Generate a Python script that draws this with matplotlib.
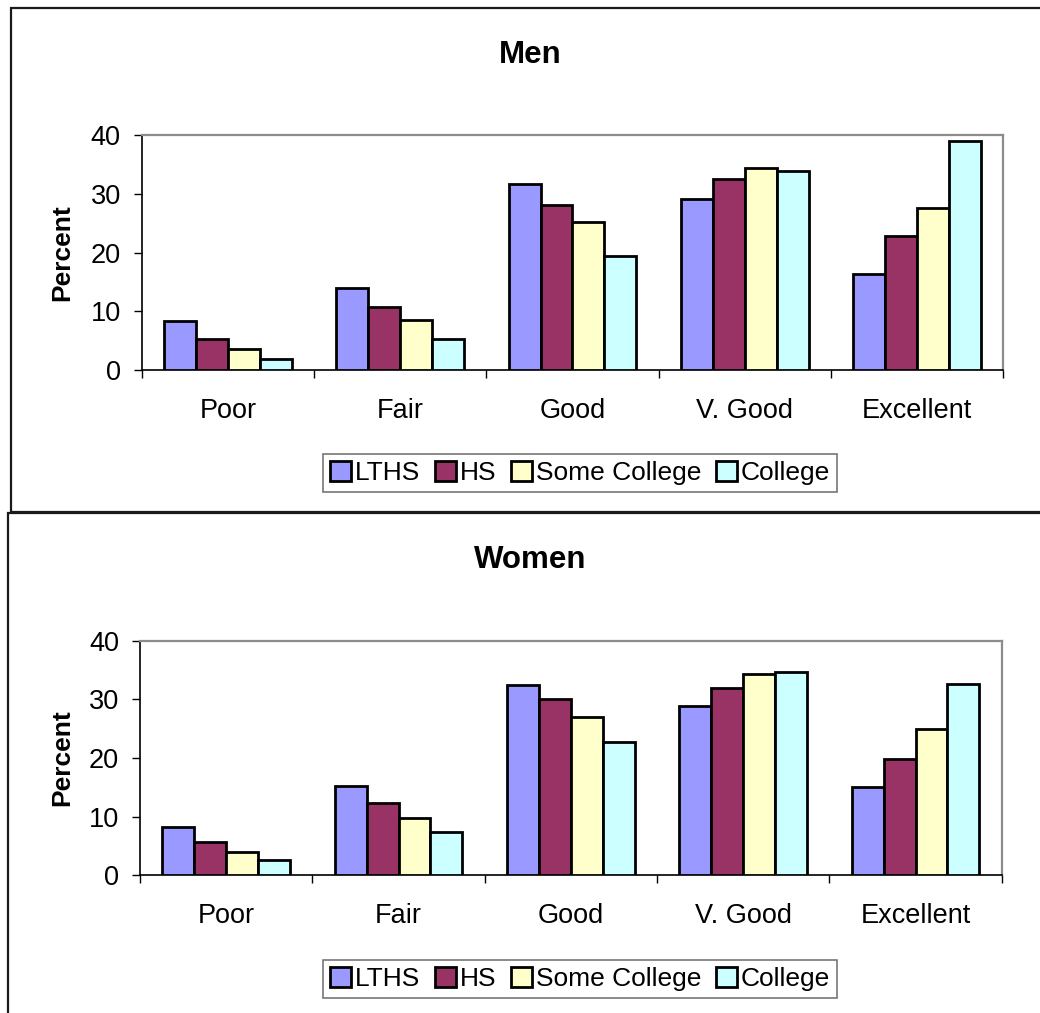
import numpy as np
import matplotlib.pyplot as plt
from matplotlib.patches import Rectangle

plt.rcParams['font.family'] = ['Liberation Sans', 'DejaVu Sans']

categories = ["Poor", "Fair", "Good", "V. Good", "Excellent"]
series = ["LTHS", "HS", "Some College", "College"]
colors = ["#9999FF", "#993366", "#FFFFCC", "#CCFFFF"]

men = [
    [8.4, 14.0, 31.7, 29.2, 16.3],   # LTHS
    [5.2, 10.7, 28.1, 32.6, 22.9],   # HS
    [3.6, 8.6, 25.3, 34.4, 27.6],    # Some College
    [1.9, 5.2, 19.5, 33.9, 39.1],    # College
]
women = [
    [8.3, 15.2, 32.4, 28.9, 15.1],
    [5.7, 12.4, 30.0, 32.0, 19.8],
    [3.9, 9.7, 27.0, 34.3, 24.9],
    [2.6, 7.4, 22.7, 34.7, 32.7],
]

W, H = 1040, 1013
fig = plt.figure(figsize=(W / 100, H / 100), dpi=100)

def px(x0, y0, x1, y1):
    # pixel box (top-left origin) -> figure fraction [left, bottom, width, height]
    return [x0 / W, 1 - y1 / H, (x1 - x0) / W, (y1 - y0) / H]

def panel(data, title, frame, axbox, title_y, legend_y):
    fig.patches.append(Rectangle((frame[0] / W, 1 - frame[3] / H),
                                 (frame[2] - frame[0]) / W, (frame[3] - frame[1]) / H,
                                 transform=fig.transFigure, fill=False,
                                 edgecolor="#1a1a1a", linewidth=1.6, clip_on=False))
    ax = fig.add_axes(px(*axbox))
    x = np.arange(len(categories))
    bw = 0.185
    for i, (name, vals) in enumerate(zip(series, data)):
        ax.bar(x + (i - 1.5) * bw, vals, bw, color=colors[i], edgecolor="black",
               linewidth=2, label=name, zorder=3)
    ax.set_xlim(-0.5, len(categories) - 0.5)
    ax.set_ylim(0, 40)
    ax.set_yticks([0, 10, 20, 30, 40])
    ax.tick_params(axis="y", length=6, width=1, pad=9, labelsize=19.5, direction="out")
    ax.set_xticks(np.arange(len(categories) + 1) - 0.5)
    ax.set_xticklabels([])
    ax.tick_params(axis="x", which="major", length=6, width=1, direction="out")
    ax.set_xticks(x, minor=True)
    ax.set_xticklabels(categories, minor=True)
    ax.tick_params(axis="x", which="minor", length=0, pad=20, labelsize=19.5)
    for s in ["top", "right"]:
        ax.spines[s].set_color("#8c8c8c")
        ax.spines[s].set_linewidth(1.6)
    for s in ["left", "bottom"]:
        ax.spines[s].set_color("black")
        ax.spines[s].set_linewidth(1.2)
    cy = (axbox[1] + axbox[3]) / 2
    fig.text(62 / W, 1 - cy / H, "Percent", rotation=90, ha="center", va="center",
             fontsize=19, fontweight="bold")
    fig.text(530 / W, 1 - title_y / H, title, ha="center", va="center",
             fontsize=22.5, fontweight="bold")
    leg = ax.legend(loc="center", bbox_to_anchor=(580 / W, 1 - legend_y / H),
                    bbox_transform=fig.transFigure, ncol=4,
                    fontsize=19, frameon=True, fancybox=False, shadow=False,
                    handlelength=0.8, handleheight=0.8, handletextpad=0.15,
                    columnspacing=0.55, borderpad=0.25, borderaxespad=0)
    leg.get_frame().set_edgecolor("#555555")
    leg.get_frame().set_linewidth(1.2)
    return ax

panel(men, "Men", (11, 8.3, 1055, 511.7), (141.7, 135.3, 1003.3, 370), 55, 473)
panel(women, "Women", (8.3, 513.3, 1055, 1025), (140, 640.7, 1001.7, 875.3), 560, 979)

fig.savefig("out.png", dpi=100)
